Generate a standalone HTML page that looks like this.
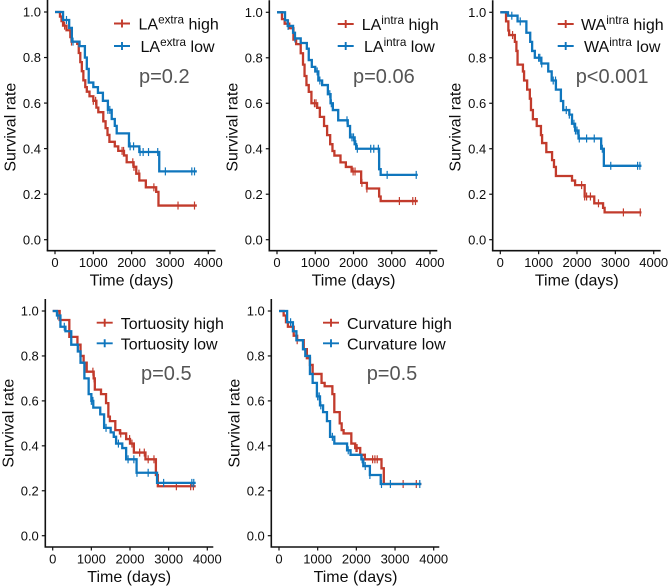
<!DOCTYPE html>
<html lang="en">
<head>
<meta charset="utf-8">
<title>Survival curves</title>
<style>
html,body{margin:0;padding:0;background:#fff;}
#chart{display:block;width:669px;height:586px;filter:blur(0.25px);}
text{font-family:"Liberation Sans",Arial,sans-serif;fill:#0d0d0d;}
</style>
</head>
<body>
<svg id="chart" xmlns="http://www.w3.org/2000/svg" width="669" height="586" viewBox="0 0 669 586"></svg>
<script>
const xTicks = [0, 1000, 2000, 3000, 4000];
const yTicks = [0, 0.2, 0.4, 0.6, 0.8, 1.0];

const laExtraHighTimes = [0,130,170,210,300,400,430,580,620,660,700,740,790,830,900,1000,1080,1130,1260,1320,1370,1420,1560,1650,1800,1870,2050,2120,2200,2370,2640,2700,3700];
const laExtraHighSurv = [1,.98,.96,.94,.92,.89,.87,.86,.82,.78,.74,.70,.67,.65,.63,.61,.58,.56,.52,.49,.46,.43,.41,.39,.37,.34,.32,.29,.26,.23,.21,.15,.15];
const laExtraHighCensor = [250,430,1000,1060,1750,1790,2030,2060,2190,2580,3210,3640];
const laExtraLowTimes = [0,210,370,440,640,780,830,880,1000,1120,1250,1380,1480,1560,1610,1930,2200,2720,3700];
const laExtraLowSurv = [1,.965,.93,.87,.85,.80,.75,.69,.67,.645,.61,.57,.53,.50,.467,.41,.385,.30,.30];
const laExtraLowCensor = [300,470,1380,1430,1960,2050,2220,2300,2440,2680,2880,3570,3640];

const laIntraHighTimes = [0,130,200,320,430,500,620,680,720,770,830,900,1050,1120,1230,1310,1390,1450,1500,1660,1800,1950,2200,2350,2670,2710,3680];
const laIntraHighSurv = [1,.97,.95,.93,.88,.86,.82,.77,.72,.68,.65,.60,.58,.54,.50,.46,.42,.39,.37,.34,.32,.30,.25,.225,.19,.17,.17];
const laIntraHighCensor = [300,980,1020,1990,2040,2220,2350,3200,3550,3620];
const laIntraLowTimes = [0,210,280,420,470,620,780,830,910,1000,1080,1180,1330,1400,1460,1600,1850,1910,2030,2070,2670,2710,3680];
const laIntraLowSurv = [1,.965,.94,.91,.885,.865,.84,.79,.76,.74,.70,.68,.64,.60,.57,.525,.50,.45,.42,.40,.31,.285,.285];
const laIntraLowCensor = [290,470,1050,1120,1380,1420,1830,1960,2000,2060,2100,2450,2530,2650,2880,3640];

const waIntraHighTimes = [0,150,210,230,380,420,450,590,620,700,770,800,850,950,1060,1090,1200,1350,1400,1450,1870,1950,2200,2450,2680,2720,3680];
const waIntraHighSurv = [1,.96,.92,.90,.87,.83,.77,.74,.70,.66,.62,.57,.53,.50,.46,.425,.385,.35,.32,.28,.26,.24,.19,.16,.14,.12,.12];
const waIntraHighCensor = [320,2120,2200,2250,2350,2560,3210,3650];
const waIntraLowTimes = [0,200,450,680,780,830,900,1070,1250,1340,1450,1580,1640,1800,1870,1950,2040,2630,2700,3680];
const waIntraLowSurv = [1,.985,.96,.91,.87,.83,.80,.775,.74,.70,.66,.61,.57,.55,.51,.48,.445,.40,.325,.325];
const waIntraLowCensor = [300,520,1000,1030,1080,1380,1440,1720,1800,1920,1960,2000,2060,2250,2450,2660,2880,3580,3640];

const tortHighTimes = [0,180,430,640,720,800,880,1060,1090,1250,1380,1440,1480,1620,1740,1900,2000,2100,2400,2670,2720,3700];
const tortHighSurv = [1,.96,.885,.85,.80,.77,.73,.70,.65,.63,.59,.53,.51,.47,.455,.43,.41,.37,.34,.27,.22,.22];
const tortHighCensor = [1040,1070,1760,1990,2050,2250,2370,2470,2620,3200,3570,3640];
const tortLowTimes = [0,110,200,330,480,650,720,820,930,1000,1050,1230,1330,1500,1580,1640,1800,1900,2170,2700,3700];
const tortLowSurv = [1,.98,.93,.91,.85,.82,.77,.70,.63,.60,.57,.54,.48,.46,.44,.41,.39,.34,.28,.235,.235];
const tortLowCensor = [130,300,1000,1040,1380,1700,1950,2100,2180,2470,2870,3600,3650];

const curvHighTimes = [0,120,180,230,380,470,640,720,800,870,1100,1180,1380,1430,1570,1620,1670,1870,1970,2100,2220,2650,2710,3680];
const curvHighSurv = [1,.98,.95,.93,.89,.87,.83,.79,.76,.72,.68,.665,.63,.55,.50,.47,.455,.41,.39,.36,.34,.30,.23,.23];
const curvHighCensor = [470,1990,2020,2420,2480,2540,3210,3550];
const curvLowTimes = [0,210,360,450,620,680,800,870,980,1060,1140,1240,1320,1430,1760,1850,2130,2180,2350,2630,3680];
const curvLowSurv = [1,.95,.91,.87,.83,.80,.72,.68,.62,.58,.55,.51,.44,.41,.38,.36,.34,.31,.27,.23,.23];
const curvLowCensor = [300,1000,1040,1080,1380,1790,2150,2230,2350,2650,2880,3640];

const RED = '#c23b2c';
const BLUE = '#0f76bd';
const svg = document.getElementById('chart');
const NS = 'http://www.w3.org/2000/svg';

function make(parent, tag, attrs, txt) {
  const n = document.createElementNS(NS, tag);
  for (const k in attrs) n.setAttribute(k, attrs[k]);
  if (txt !== undefined) n.textContent = txt;
  parent.appendChild(n);
  return n;
}

function stepValue(times, surv, t) {
  let v = surv[0];
  for (let i = 0; i < times.length; i++) { if (times[i] <= t) v = surv[i]; }
  return v;
}

function legendLabel(g, x, y, parts, name) {
  const t = make(g, 'text', {x: x, y: y, 'font-size': 16});
  
  
  make(t, 'tspan', {}, parts[0]);
  if (parts[1]) {
    make(t, 'tspan', {'font-size': 11.7, dy: -6}, parts[1]);
    make(t, 'tspan', {dy: 6}, ' ' + parts[2]);
  } else {
    make(t, 'tspan', {}, ' ' + parts[2]);
  }
}

function drawSeries(g, p, times, surv, censor, color, name) {
  const sx = t => p.x0 + (p.x4000 - p.x0) * t / 4000;
  const sy = v => p.y0 + (p.y1 - p.y0) * v;
  let d = 'M' + sx(times[0]) + ' ' + sy(surv[0]);
  for (let i = 1; i < times.length; i++) {
    d += 'H' + sx(times[i]) + 'V' + sy(surv[i]);
  }
  const line = make(g, 'path', {d: d, fill: 'none', stroke: color, 'stroke-width': 2.3});
  
  
  censor.forEach(t => {
    const cx = sx(t), cy = sy(stepValue(times, surv, t));
    const m = make(g, 'path', {d: 'M' + cx + ' ' + (cy - 4) + 'V' + (cy + 4), fill: 'none', stroke: color, 'stroke-width': 1.2});
    
    
  });
}

function drawPanel(p) {
  const g = make(svg, 'g', {});
  
  
  const sx = t => p.x0 + (p.x4000 - p.x0) * t / 4000;
  const sy = v => p.y0 + (p.y1 - p.y0) * v;
  const axisColor = '#111';

  const yAxis = make(g, 'line', {x1: p.ax, x2: p.ax, y1: p.y1 - 12, y2: p.bottom, stroke: axisColor, 'stroke-width': 1.6});
  
  
  const xAxis = make(g, 'line', {x1: p.ax - 0.8, x2: p.ax + 168, y1: p.bottom, y2: p.bottom, stroke: axisColor, 'stroke-width': 1.6});
  
  

  yTicks.forEach(v => {
    make(g, 'line', {x1: p.ax - 3.5, x2: p.ax, y1: sy(v), y2: sy(v), stroke: axisColor, 'stroke-width': 1.2});
    const l = make(g, 'text', {x: p.ax - 6.5, y: sy(v) + 4.7, 'font-size': 13, 'text-anchor': 'end'}, v.toFixed(1));
    
    
  });
  xTicks.forEach(t => {
    make(g, 'line', {x1: sx(t), x2: sx(t), y1: p.bottom, y2: p.bottom + 3.5, stroke: axisColor, 'stroke-width': 1.2});
    const l = make(g, 'text', {x: sx(t), y: p.bottom + 16.5, 'font-size': 13, 'text-anchor': 'middle'}, String(t));
    
    
  });

  const xt = make(g, 'text', {x: p.x0 + 76.5, y: p.bottom + 35, 'font-size': 16, 'text-anchor': 'middle'}, 'Time (days)');
  
  
  const yc = p.y0 - 112.5;
  const yt = make(g, 'text', {x: 0, y: 0, 'font-size': 16, 'text-anchor': 'middle', transform: 'translate(' + (p.ax - 32) + ' ' + yc + ') rotate(-90)'}, 'Survival rate');
  
  

  drawSeries(g, p, p.high[0], p.high[1], p.high[2], RED, 'high-series');
  drawSeries(g, p, p.low[0], p.low[1], p.low[2], BLUE, 'low-series');

  [[p.keyY1, RED, p.text1X, p.labelHigh, 'legend-entry-high'], [p.keyY2, BLUE, p.text2X, p.labelLow, 'legend-entry-low']].forEach(e => {
    const k = make(g, 'path', {d: 'M' + p.keyX + ' ' + e[0] + 'h16M' + (p.keyX + 8) + ' ' + (e[0] - 4) + 'v8', fill: 'none', stroke: e[1], 'stroke-width': 1.9});
    
    
    legendLabel(g, e[2], e[0] + 6.2, e[3], e[4] + '-label');
  });

  const pv = make(g, 'text', {x: p.pX, y: p.pY, 'font-size': 20, style: 'fill:#555'}, p.pText);
  
  
}

drawPanel({name:'la-extra', ax:47.5, x0:55, x4000:208.3, y1:12, y0:239.7, bottom:250.7,
  high:[laExtraHighTimes, laExtraHighSurv, laExtraHighCensor], low:[laExtraLowTimes, laExtraLowSurv, laExtraLowCensor],
  keyX:114, keyY1:23.5, keyY2:46, text1X:138.5, text2X:140.5, labelHigh:['LA','extra','high'], labelLow:['LA','extra','low'], pX:139, pY:83, pText:'p=0.2'});
drawPanel({name:'la-intra', ax:269.3, x0:277, x4000:430, y1:12.3, y0:239.7, bottom:250.7,
  high:[laIntraHighTimes, laIntraHighSurv, laIntraHighCensor], low:[laIntraLowTimes, laIntraLowSurv, laIntraLowCensor],
  keyX:337.7, keyY1:24, keyY2:46, text1X:361.7, text2X:364, labelHigh:['LA','intra','high'], labelLow:['LA','intra','low'], pX:353, pY:83, pText:'p=0.06'});
drawPanel({name:'wa-intra', ax:492.7, x0:500.3, x4000:653.7, y1:12.3, y0:239.7, bottom:250.7,
  high:[waIntraHighTimes, waIntraHighSurv, waIntraHighCensor], low:[waIntraLowTimes, waIntraLowSurv, waIntraLowCensor],
  keyX:557.7, keyY1:24, keyY2:46, text1X:581, text2X:584, labelHigh:['WA','intra','high'], labelLow:['WA','intra','low'], pX:575.7, pY:83, pText:'p<0.001'});
drawPanel({name:'tortuosity', ax:45.3, x0:52.7, x4000:207.3, y1:311, y0:535.7, bottom:547,
  high:[tortHighTimes, tortHighSurv, tortHighCensor], low:[tortLowTimes, tortLowSurv, tortLowCensor],
  keyX:96.7, keyY1:322.7, keyY2:343.3, text1X:120.7, text2X:120.7, labelHigh:['Tortuosity','','high'], labelLow:['Tortuosity','','low'], pX:141, pY:380, pText:'p=0.5'});
drawPanel({name:'curvature', ax:271.3, x0:279, x4000:433.7, y1:311, y0:535.7, bottom:547,
  high:[curvHighTimes, curvHighSurv, curvHighCensor], low:[curvLowTimes, curvLowSurv, curvLowCensor],
  keyX:323, keyY1:322.7, keyY2:343.3, text1X:347, text2X:347, labelHigh:['Curvature','','high'], labelLow:['Curvature','','low'], pX:366.7, pY:380, pText:'p=0.5'});
</script>
</body>
</html>
